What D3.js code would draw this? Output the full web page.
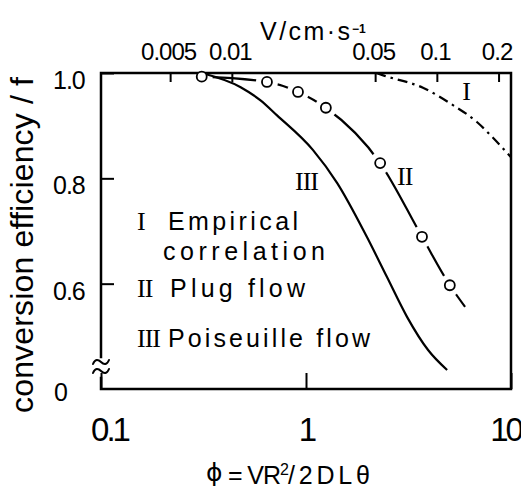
<!DOCTYPE html>
<html>
<head>
<meta charset="utf-8">
<script src="https://cdn.jsdelivr.net/npm/d3@7"></script>
<style>
  html, body { margin: 0; padding: 0; background: #fff; }
  svg { display: block; }
</style>
</head>
<body>
<svg id="chart" width="521" height="488"></svg>
<script>
// ---- axis ticks ----
const phiTicks = [0.1, 1, 10];
const phiTickLabels = ["0.1", "1", "10"];
const velocityTicks = [0.005, 0.01, 0.05, 0.1, 0.2];
const velocityTickLabels = ["0.005", "0.01", "0.05", "0.1", "0.2"];
const fTicks = [0.6, 0.8, 1.0];
const fTickLabels = ["0.6", "0.8", "1.0"];
const fBreakLabel = "0";
const fVisibleMin = 0.4;          // lowest value shown above the axis break
const velocityPerPhi = 0.023;     // V (cm/s) corresponding to Φ = 1

// ---- I: empirical correlation ----
const empiricalPhi = [2.2, 2.4, 3.72, 5.21, 6.82, 8.17, 10];
const empiricalF = [1.0, 0.995, 0.972, 0.939, 0.907, 0.877, 0.840];

// ---- II: plug flow (calculated) and measured points ----
const plugPhi = [0.31, 0.645, 0.914, 1.25, 2.30, 3.68, 5.03, 5.97];
const plugF = [0.993, 0.983, 0.964, 0.934, 0.829, 0.689, 0.597, 0.556];
const measuredPhi = [0.31, 0.645, 0.914, 1.25, 2.30, 3.68, 5.03];
const measuredF = [0.993, 0.983, 0.964, 0.934, 0.829, 0.689, 0.597];

// ---- III: Poiseuille flow ----
const poisPhi = [0.31, 0.48, 0.60, 0.72, 1.08, 1.42, 1.98, 2.48, 3.11, 3.94, 4.88];
const poisF = [1.0, 0.973, 0.948, 0.920, 0.854, 0.791, 0.689, 0.613, 0.537, 0.474, 0.436];

// ---- legend ----
const legendNumerals = ["I", "", "II", "III"];
const legendTexts = ["Empirical", "correlation", "Plug flow", "Poiseuille flow"];

// ================= drawing =================
const W = 521, H = 488;
const plot = { left: 101, right: 511, top: 73, bottom: 389 };
const sans = "'Liberation Sans', Arial, Helvetica, sans-serif";
const serif = "'Liberation Serif', 'Times New Roman', serif";

const svg = d3.select("#chart");

const x = d3.scaleLog().domain([0.1, 10]).range([plot.left, plot.right]);
const xV = d3.scaleLog()
  .domain([0.1 * velocityPerPhi, 10 * velocityPerPhi])
  .range([plot.left, plot.right]);
const y = d3.scaleLinear().domain([fVisibleMin, 1.0]).range([plot.bottom, plot.top]);

function styleAxis(g, size, spacing) {
  g.select(".domain").remove();
  g.selectAll(".tick line").attr("stroke", "#000").attr("stroke-width", 2);
  g.selectAll(".tick text")
    .attr("fill", "#000")
    .attr("font-family", sans)
    .attr("font-size", size)
    .attr("letter-spacing", spacing);
}

// bottom Φ axis
const gBottom = svg.append("g")
  .attr("transform", `translate(0,${plot.bottom})`)
  .call(d3.axisBottom(x).tickValues(phiTicks)
    .tickFormat((d, i) => phiTickLabels[i])
    .tickSize(-16).tickPadding(29));
styleAxis(gBottom, 33, -3);
// end labels are nudged inside the frame edges
const lastPhi = phiTicks[phiTicks.length - 1];
gBottom.selectAll(".tick text")
  .attr("dx", d => d === phiTicks[0] ? 8 : (d === lastPhi ? -6 : 0));

// top V axis
const gTop = svg.append("g")
  .attr("transform", `translate(0,${plot.top})`)
  .call(d3.axisTop(xV).tickValues(velocityTicks)
    .tickFormat((d, i) => velocityTickLabels[i])
    .tickSize(-9).tickPadding(13));
styleAxis(gTop, 24, -1);
gTop.selectAll(".tick text").attr("dx", -2);

// left f axis
const gLeft = svg.append("g")
  .attr("transform", `translate(${plot.left},0)`)
  .call(d3.axisLeft(y).tickValues(fTicks)
    .tickFormat((d, i) => fTickLabels[i])
    .tickSize(-13));
styleAxis(gLeft, 25, -1);
gLeft.selectAll(".tick text")
  .attr("text-anchor", "start")
  .attr("x", 53 - plot.left)
  .attr("dy", "0.62em");

svg.append("text")
  .attr("x", 54).attr("y", y(fVisibleMin) + 12)
  .attr("font-family", sans).attr("font-size", 25)
  .text(fBreakLabel);

// frame with a break on the left side
const breakTop = 357, breakBottom = 378;
const frame = svg.append("g")
  .attr("fill", "none").attr("stroke", "#000")
  .attr("stroke-width", 2.5).attr("stroke-linecap", "square");
frame.append("path")
  .attr("d", `M${plot.left},${breakTop} V${plot.top} H${plot.right} V${plot.bottom} H${plot.left} V${breakBottom}`);
[362, 371].forEach(yy => {
  frame.append("path")
    .attr("stroke-width", 2).attr("stroke-linecap", "round")
    .attr("d", `M93,${yy + 2} C95,${yy - 3} 98,${yy - 3} 101,${yy} C104,${yy + 3} 107,${yy + 3} 109,${yy - 2}`);
});

// curves
const line = d3.line()
  .x(d => x(d[0]))
  .y(d => y(d[1]))
  .curve(d3.curveMonotoneX);

const curves = svg.append("g")
  .attr("fill", "none").attr("stroke", "#000").attr("stroke-width", 2.2);

// gaps of the plug-flow line around its measured points
const mask = svg.append("defs").append("mask")
  .attr("id", "plugGap")
  .attr("maskUnits", "userSpaceOnUse")
  .attr("x", 0).attr("y", 0).attr("width", W).attr("height", H);
mask.append("rect").attr("width", W).attr("height", H).attr("fill", "#fff");
mask.selectAll("circle")
  .data(measuredPhi)
  .join("circle")
  .attr("cx", d => x(d))
  .attr("cy", (d, i) => y(measuredF[i]))
  .attr("r", 11)
  .attr("fill", "#000");

curves.append("path")
  .attr("d", line(empiricalPhi.map((p, i) => [p, empiricalF[i]])))
  .attr("stroke-dasharray", "10,5,2.5,5");

curves.append("path")
  .attr("d", line(plugPhi.map((p, i) => [p, plugF[i]])))
  .attr("mask", "url(#plugGap)");

curves.append("path")
  .attr("d", line(poisPhi.map((p, i) => [p, poisF[i]])));

curves.selectAll("circle")
  .data(measuredPhi)
  .join("circle")
  .attr("cx", d => x(d))
  .attr("cy", (d, i) => y(measuredF[i]))
  .attr("r", 5)
  .attr("stroke-width", 1.8)
  .attr("fill", "#fff");

// curve numerals
const numeral = (tx, ty, s, anchor) => svg.append("text")
  .attr("x", tx).attr("y", ty)
  .attr("font-family", serif).attr("font-size", 26)
  .attr("letter-spacing", -1)
  .attr("text-anchor", anchor || "start")
  .text(s);
numeral(295, 190, "III");
numeral(397, 185, "II");
numeral(466, 100, "I", "middle");

// legend
const legendRows = [
  { y: 230, x: 168, len: 130 },
  { y: 260, x: 163, len: 162 },
  { y: 297, x: 170, len: 135 },
  { y: 347, x: 168, len: 202 }
];
legendRows.forEach((r, i) => {
  if (legendNumerals[i]) numeral(137, r.y, legendNumerals[i]);
  svg.append("text")
    .attr("x", r.x).attr("y", r.y)
    .attr("font-family", sans).attr("font-size", 25)
    .attr("textLength", r.len).attr("lengthAdjust", "spacing")
    .text(legendTexts[i]);
});

// axis titles
svg.append("text")
  .attr("transform", "translate(33,245) rotate(-90)")
  .attr("text-anchor", "middle")
  .attr("font-family", sans).attr("font-size", 32)
  .attr("textLength", 336).attr("lengthAdjust", "spacing")
  .text("conversion efficiency / f");

svg.append("text")
  .attr("x", 260).attr("y", 40)
  .attr("font-family", sans).attr("font-size", 25)
  .attr("textLength", 90).attr("lengthAdjust", "spacing")
  .text("V/cm·s");
svg.append("text")
  .attr("x", 352).attr("y", 33)
  .attr("font-family", sans).attr("font-size", 12).attr("font-weight", "bold")
  .text("−1");

svg.append("text")
  .attr("x", 206).attr("y", 481)
  .attr("font-family", "'DejaVu Sans', sans-serif").attr("font-size", 25)
  .text("ϕ");
svg.append("text")
  .attr("x", 228).attr("y", 484)
  .attr("font-family", sans).attr("font-size", 25)
  .attr("textLength", 53).attr("lengthAdjust", "spacing")
  .text("= VR");
svg.append("text")
  .attr("x", 280).attr("y", 475)
  .attr("font-family", sans).attr("font-size", 16)
  .text("2");
svg.append("text")
  .attr("x", 288).attr("y", 484)
  .attr("font-family", sans).attr("font-size", 25)
  .attr("textLength", 82).attr("lengthAdjust", "spacing")
  .text("/2DLθ");
</script>
</body>
</html>
